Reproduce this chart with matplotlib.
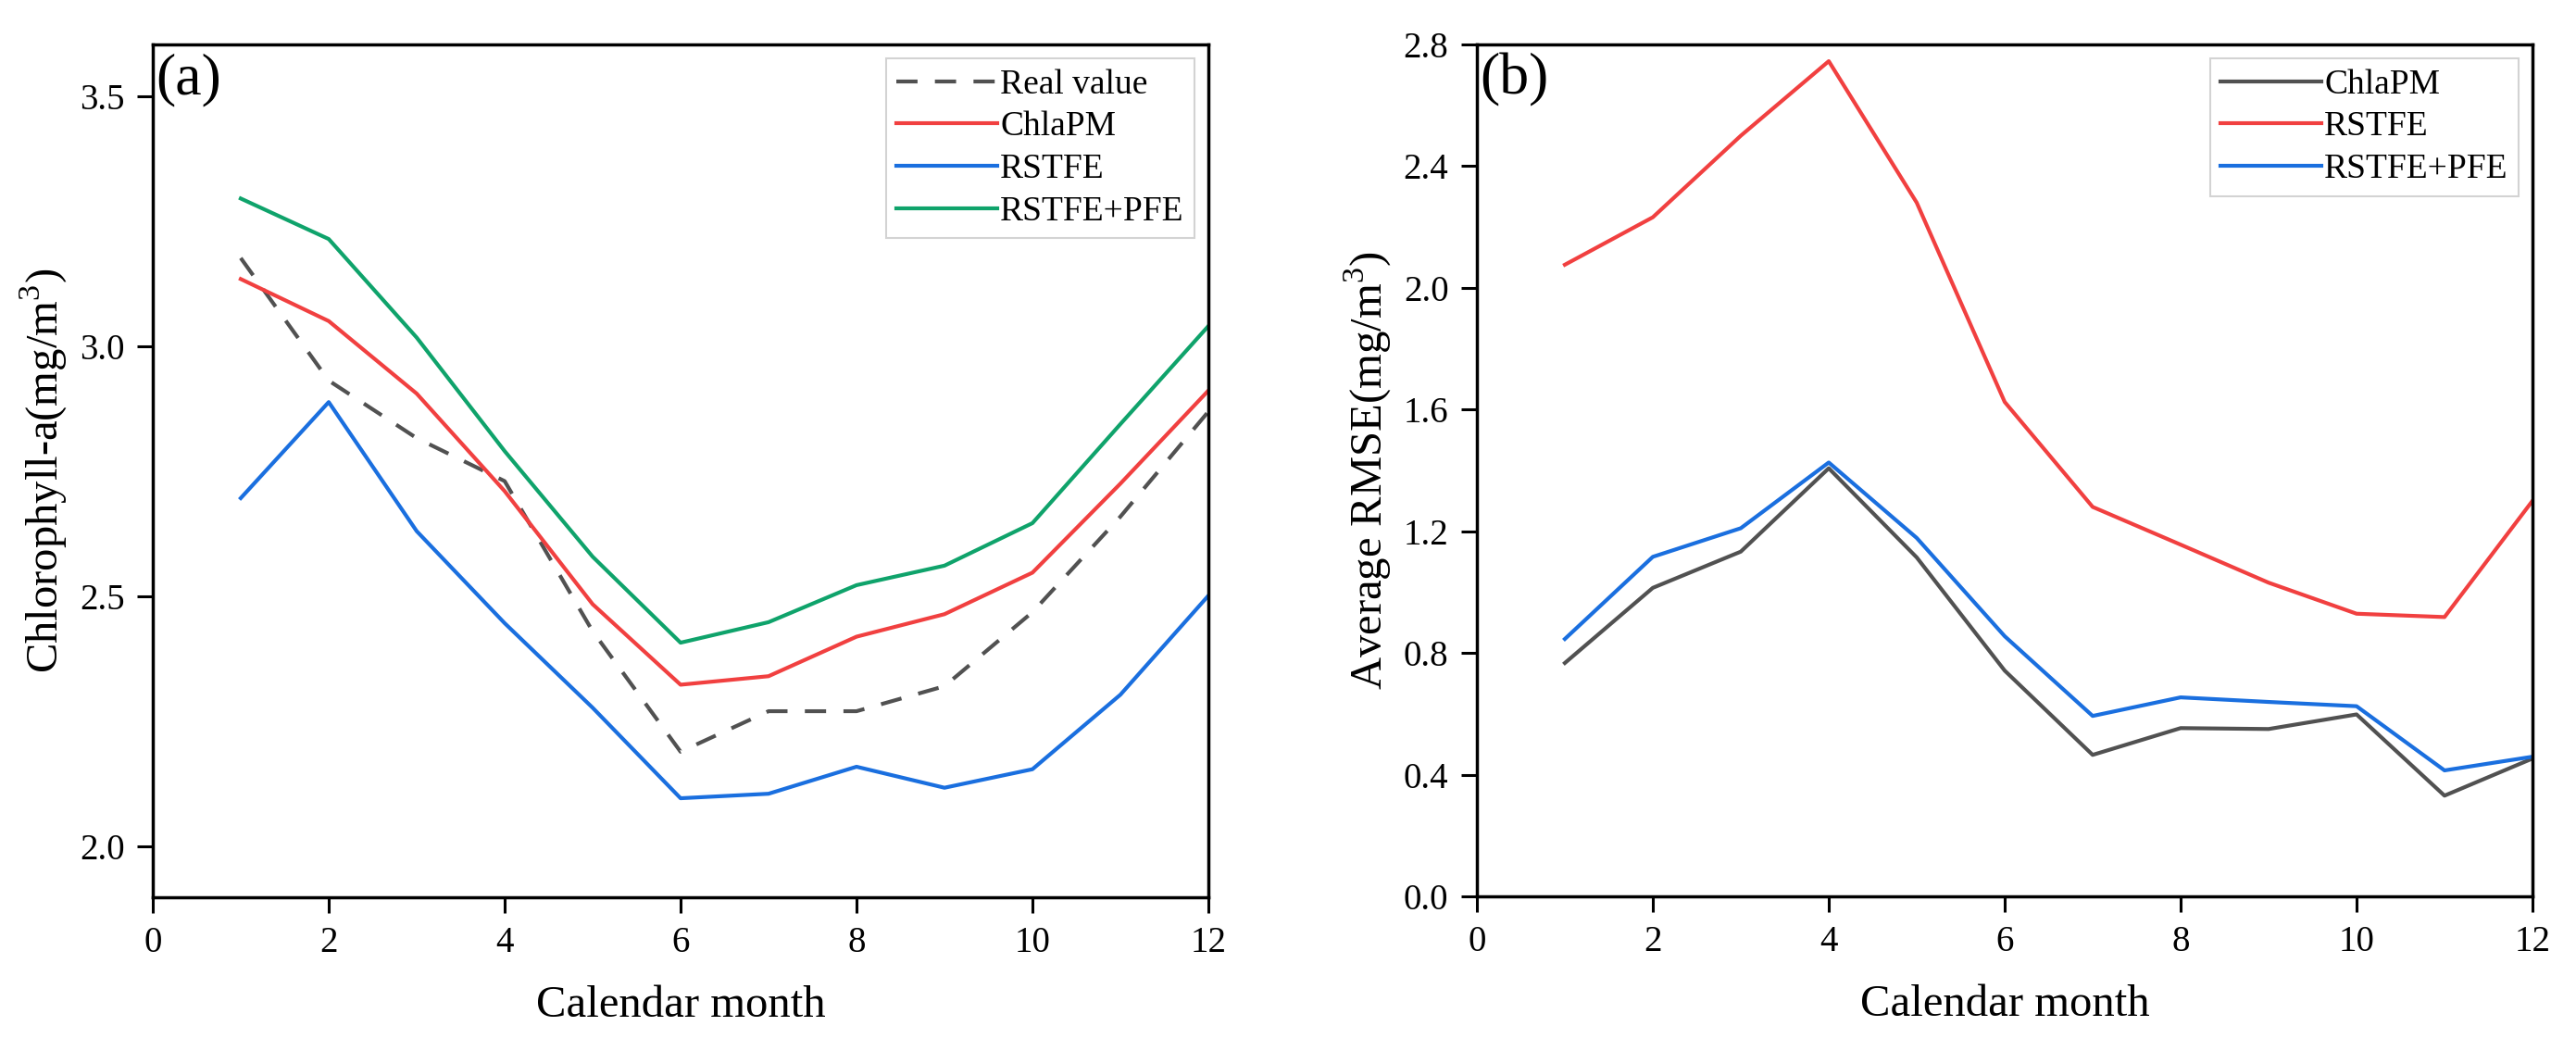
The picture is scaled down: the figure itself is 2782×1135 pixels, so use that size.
import matplotlib
matplotlib.use("Agg")
import matplotlib.pyplot as plt

plt.rcParams['font.family'] = ['Liberation Serif', 'DejaVu Serif']
plt.rcParams['mathtext.fontset'] = 'custom'
plt.rcParams['mathtext.rm'] = 'Liberation Serif'

months = [1, 2, 3, 4, 5, 6, 7, 8, 9, 10, 11, 12]

# Panel (a): Chlorophyll-a concentration
real_value = [3.176, 2.931, 2.816, 2.730, 2.430, 2.189, 2.270, 2.270, 2.320, 2.468, 2.659, 2.869]
chlapm_a = [3.134, 3.050, 2.905, 2.710, 2.484, 2.323, 2.340, 2.419, 2.464, 2.547, 2.725, 2.911]
rstfe_a = [2.696, 2.888, 2.630, 2.446, 2.277, 2.096, 2.105, 2.159, 2.117, 2.154, 2.303, 2.501]
rstfe_pfe_a = [3.295, 3.214, 3.017, 2.790, 2.579, 2.407, 2.448, 2.522, 2.561, 2.646, 2.844, 3.040]

# Panel (b): Average RMSE
chlapm_b = [0.767, 1.014, 1.133, 1.407, 1.114, 0.742, 0.465, 0.553, 0.550, 0.598, 0.331, 0.453]
rstfe_b = [2.076, 2.232, 2.500, 2.745, 2.280, 1.625, 1.280, 1.156, 1.031, 0.929, 0.918, 1.300]
rstfe_pfe_b = [0.846, 1.116, 1.210, 1.426, 1.178, 0.855, 0.593, 0.654, 0.639, 0.625, 0.414, 0.459]

xticks = [0, 2, 4, 6, 8, 10, 12]
yticks_a = [2.0, 2.5, 3.0, 3.5]
yticks_b = [0.0, 0.4, 0.8, 1.2, 1.6, 2.0, 2.4, 2.8]

GRAY = '#515151'
RED = '#F14040'
BLUE = '#1A6FDF'
GREEN = '#0FA36B'

W, H = 2782, 1135
fig = plt.figure(figsize=(W / 100, H / 100), dpi=100)

def pos(l, r, t, b):
    return [l / W, 1 - b / H, (r - l) / W, (b - t) / H]

ax1 = fig.add_axes(pos(165, 1305, 48, 969))
ax2 = fig.add_axes(pos(1595, 2735, 48, 968))

LW = 3.0
FS_TICK = 28
FS_LAB = 35
FS_LEG = 27

ax1.plot(months, real_value, color=GRAY, lw=LW, dashes=(5.5, 4.5), label='Real value')
ax1.plot(months, chlapm_a, color=RED, lw=LW, label='ChlaPM')
ax1.plot(months, rstfe_a, color=BLUE, lw=LW, label='RSTFE')
ax1.plot(months, rstfe_pfe_a, color=GREEN, lw=LW, label='RSTFE+PFE')
ax1.set_xlim(0, 12)
ax1.set_ylim(1.898, 3.603)
ax1.set_yticks(yticks_a)
ax1.set_yticklabels([f'{v:.1f}' for v in yticks_a])
ax1.set_ylabel('Chlorophyll-a(mg/m$^3$)', fontsize=FS_LAB, labelpad=8)

ax2.plot(months, chlapm_b, color=GRAY, lw=LW, label='ChlaPM')
ax2.plot(months, rstfe_b, color=RED, lw=LW, label='RSTFE')
ax2.plot(months, rstfe_pfe_b, color=BLUE, lw=LW, label='RSTFE+PFE')
ax2.set_xlim(0, 12)
ax2.set_ylim(0, 2.8)
ax2.set_yticks(yticks_b)
ax2.set_yticklabels([f'{v:.1f}' for v in yticks_b])
ax2.set_ylabel('Average RMSE(mg/m$^3$)', fontsize=FS_LAB, labelpad=8)

for ax, tag in ((ax1, '(a)'), (ax2, '(b)')):
    ax.set_xticks(xticks)
    ax.set_xticklabels([str(v) for v in xticks])
    ax.set_xlabel('Calendar month', fontsize=FS_LAB, labelpad=20)
    ax.tick_params(axis='both', direction='out', length=12, width=2.2,
                   labelsize=FS_TICK, pad=10, top=False, right=False)
    for lab in ax.get_xticklabels() + ax.get_yticklabels():
        lab.set_fontfamily(['Liberation Serif', 'DejaVu Serif'])
    for s in ax.spines.values():
        s.set_linewidth(2.5)
    ax.text(0.003, 0.99, tag, transform=ax.transAxes, ha='left', va='top',
            fontsize=46)
    leg = ax.legend(loc='upper right', fontsize=FS_LEG, frameon=True, fancybox=False,
                    edgecolor='#C8C8C8', handlelength=2.9, handletextpad=0.1,
                    labelspacing=0.3, borderpad=0.3, borderaxespad=0.4)
    leg.get_frame().set_linewidth(1.5)

fig.savefig('out.png', dpi=100)
